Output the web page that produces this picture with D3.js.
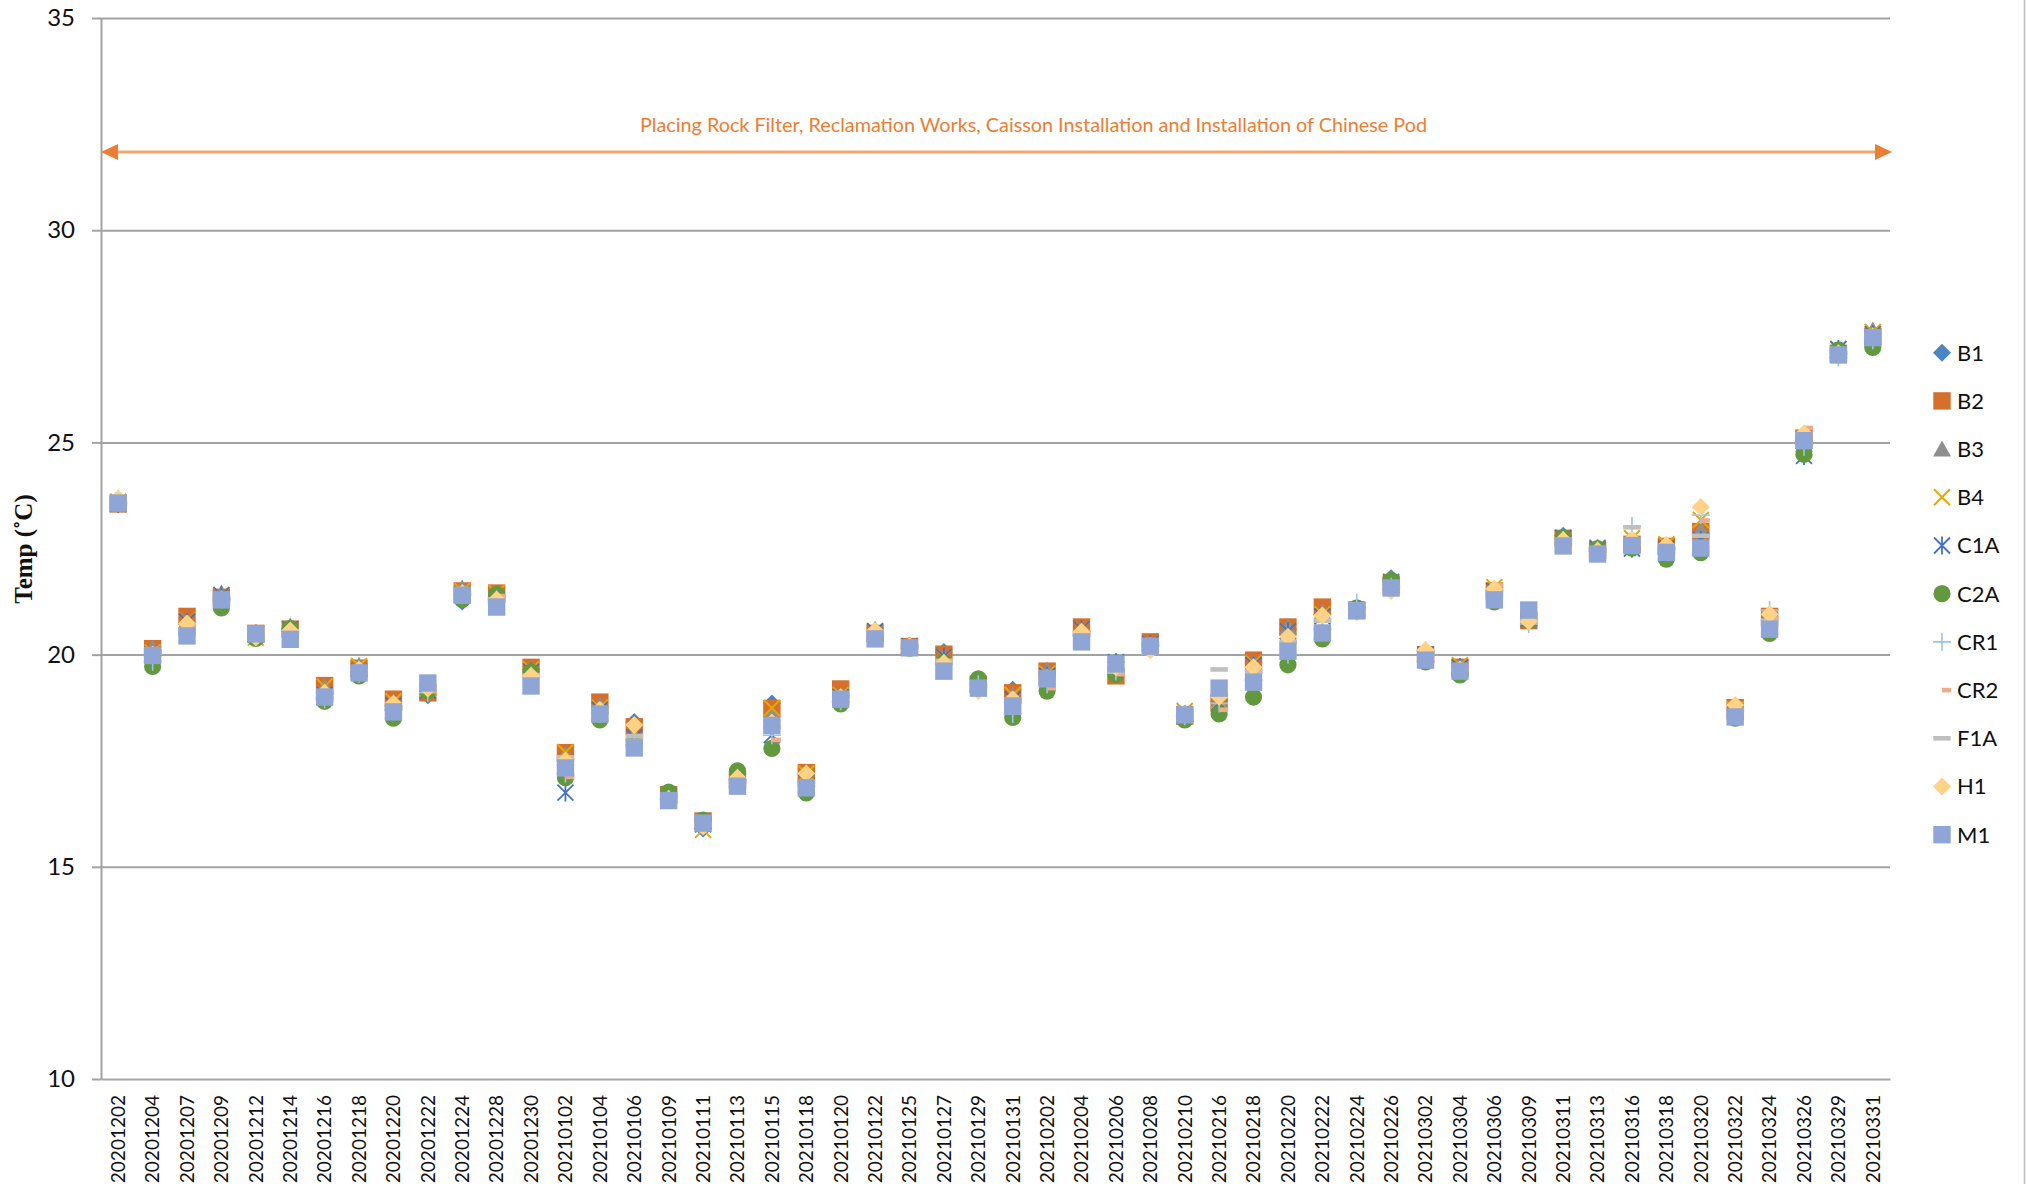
<!DOCTYPE html>
<html>
<head>
<meta charset="utf-8">
<script src="https://cdnjs.cloudflare.com/ajax/libs/d3/7.8.5/d3.min.js"></script>
<style>
    html, body { margin: 0; padding: 0; background: #fff; }
    svg { display: block; }
</style>
</head>
<body>
<div id="chart"></div>
<script>
//Sampling dates (x categories)
const dates = ["20201202","20201204","20201207","20201209","20201212","20201214","20201216","20201218","20201220","20201222",
    "20201224","20201228","20201230","20210102","20210104","20210106","20210109","20210111","20210113","20210115",
    "20210118","20210120","20210122","20210125","20210127","20210129","20210131","20210202","20210204","20210206",
    "20210208","20210210","20210216","20210218","20210220","20210222","20210224","20210226","20210302","20210304",
    "20210306","20210309","20210311","20210313","20210316","20210318","20210320","20210322","20210324","20210326",
    "20210329","20210331"];

//Temperature per station
const b1 = [23.58,20.0,20.75,21.35,20.45,20.6,19.0,19.6,18.8,19.04,21.25,21.35,19.65,17.4,18.7,18.41,16.7,15.9,17.05,18.85,
    17.0,19.0,20.5,20.2,20.06,19.3,19.17,19.55,20.55,19.82,20.25,18.6,18.9,19.8,20.6,20.95,21.1,21.8,20.0,19.7,
    21.5,20.85,22.8,22.5,22.6,22.5,22.85,18.7,20.8,24.9,27.1,27.5];
const b2 = [23.55,20.14,20.9,21.35,20.5,20.6,19.27,19.68,18.95,19.1,21.5,21.45,19.7,17.69,18.88,18.3,16.7,16.08,17.05,18.73,
    17.22,19.19,20.5,20.19,20.01,19.3,19.1,19.61,20.65,19.5,20.3,18.55,18.85,19.87,20.65,21.12,21.05,21.65,20.0,19.7,
    21.5,20.8,22.74,22.45,22.6,22.55,22.9,18.75,20.9,25.1,27.1,27.5];
const b3 = [23.62,20.15,20.8,21.45,20.45,20.68,19.25,19.75,18.85,19.2,21.57,21.4,19.65,17.65,18.8,18.15,16.7,16.05,17.05,18.62,
    17.1,19.05,20.6,20.2,19.95,19.3,19.05,19.64,20.6,19.8,20.25,18.6,18.9,19.8,20.65,21.0,21.1,21.7,20.0,19.72,
    21.55,20.85,22.75,22.5,22.65,22.55,22.94,18.7,20.85,24.95,27.15,27.65];
const b4 = [23.6,20.05,20.8,21.4,20.4,20.6,19.25,19.73,18.9,19.2,21.5,21.45,19.65,17.7,18.75,18.2,16.65,15.87,17.0,18.74,
    17.2,19.05,20.55,20.2,19.95,19.3,19.05,19.55,20.6,19.8,20.25,18.67,18.9,19.8,20.55,20.95,21.05,21.72,20.0,19.75,
    21.59,20.85,22.75,22.52,22.74,22.6,23.17,18.7,20.85,24.85,27.2,27.6];
const c1a = [23.55,20.0,20.78,21.4,20.5,20.6,19.05,19.6,18.8,19.15,21.4,21.3,19.6,16.75,18.7,18.05,16.65,16.0,17.0,18.1,
    17.0,19.0,20.55,20.2,19.95,19.3,18.95,19.5,20.6,19.82,20.25,18.6,18.87,19.75,20.55,20.9,21.05,21.7,20.0,19.7,
    21.5,20.85,22.75,22.5,22.5,22.5,22.7,18.65,20.8,24.68,27.2,27.55];
const c2a = [23.6,19.72,20.5,21.1,20.38,20.62,18.9,19.5,18.5,19.14,21.3,21.42,19.59,17.1,18.46,17.85,16.76,16.1,17.26,17.79,
    16.74,18.84,20.45,20.15,19.81,19.43,18.52,19.14,20.45,19.54,20.2,18.46,18.6,19.0,19.76,20.37,21.1,21.75,19.83,19.52,
    21.24,20.8,22.75,22.5,22.51,22.25,22.4,18.5,20.5,24.72,27.18,27.24];
const cr1 = [23.58,19.83,20.6,21.3,20.5,20.5,18.95,19.55,18.7,19.1,21.4,21.3,19.5,17.2,18.6,18.0,16.6,16.0,17.05,18.1,
    16.9,18.9,20.45,20.15,19.8,19.3,18.6,19.3,20.45,19.6,20.2,18.55,18.85,19.4,20.0,20.6,21.22,21.6,20.1,19.65,
    21.5,20.72,22.7,22.45,23.03,22.45,23.29,18.6,21.05,24.9,27.0,27.4];
const cr2 = [23.55,20.05,20.7,21.3,20.5,20.55,19.1,19.6,18.75,19.15,21.45,21.38,19.52,17.12,18.65,18.08,16.65,16.0,17.0,17.99,
    17.0,19.0,20.5,20.2,19.85,19.25,18.9,19.21,20.5,19.54,20.25,18.55,18.7,19.6,20.3,20.8,21.05,21.6,20.05,19.65,
    21.64,20.85,22.7,22.45,22.6,22.5,23.16,18.7,20.85,25.34,27.1,27.5];
const f1a = [23.6,20.0,20.6,21.35,20.5,20.5,19.0,19.6,18.7,19.2,21.45,21.3,19.5,17.58,18.65,18.08,16.65,16.0,17.0,18.3,
    17.0,19.0,20.5,20.2,19.85,19.3,18.9,19.4,20.5,19.6,20.2,18.55,19.65,19.6,20.3,20.8,21.05,21.6,20.0,19.65,
    21.45,20.8,22.7,22.45,23.0,22.5,22.8,18.65,20.8,24.95,27.1,27.5];
const h1 = [23.68,20.0,20.73,21.3,20.4,20.57,19.1,19.65,18.85,19.2,21.45,21.3,19.5,17.5,18.7,18.34,16.6,15.95,17.1,18.4,
    17.2,19.0,20.56,20.2,19.8,19.14,18.95,19.45,20.54,19.7,20.1,18.6,19.0,19.7,20.42,20.92,21.0,21.5,20.11,19.65,
    21.55,20.78,22.7,22.45,22.72,22.58,23.48,18.81,20.95,25.21,27.1,27.5];
const m1 = [23.57,19.98,20.44,21.29,20.49,20.36,19.0,19.57,18.65,19.33,21.4,21.12,19.26,17.33,18.6,17.8,16.56,16.03,16.9,18.33,
    16.86,18.95,20.37,20.16,19.61,19.21,18.79,19.43,20.3,19.78,20.2,18.58,19.21,19.35,20.08,20.51,21.03,21.57,19.87,19.61,
    21.29,21.05,22.56,22.37,22.57,22.41,22.51,18.53,20.6,25.04,27.06,27.47];

//Series names, in drawing order (last one on top)
const seriesNames = ["B1","B2","B3","B4","C1A","C2A","CR1","CR2","F1A","H1","M1"];
const seriesValues = [b1, b2, b3, b4, c1a, c2a, cr1, cr2, f1a, h1, m1];

//Y axis ticks
const yTicks = [10, 15, 20, 25, 30, 35];

//Annotation over the period
const annotationText = "Placing Rock Filter, Reclamation Works, Caisson Installation and Installation of Chinese Pod";

//Marker shape and colour for each series
const markerStyle = {
    "B1":  {shape: "diamond",   color: "#4A86C4"},
    "B2":  {shape: "square",    color: "#D4702C"},
    "B3":  {shape: "triangle",  color: "#8F8F8F"},
    "B4":  {shape: "x",         color: "#E5A800"},
    "C1A": {shape: "asterisk",  color: "#4472C4"},
    "C2A": {shape: "circle",    color: "#62993E"},
    "CR1": {shape: "plus",      color: "#9DC3E6"},
    "CR2": {shape: "shortdash", color: "#F2A98A"},
    "F1A": {shape: "dash",      color: "#BFBFBF"},
    "H1":  {shape: "diamond",   color: "#FFD285"},
    "M1":  {shape: "square",    color: "#8FA5D6"}
};

//Path for each marker shape, centred at 0,0
const shapePaths = {
    diamond:   "M0,-9L9,0L0,9L-9,0Z",
    square:    "M-8.7,-8.7H8.7V8.7H-8.7Z",
    triangle:  "M0,-8.5L9,7.5L-9,7.5Z",
    x:         "M-8,-8L8,8M-8,8L8,-8",
    asterisk:  "M-8,-8L8,8M-8,8L8,-8M0,-9L0,9",
    circle:    "M8.6,0A8.6,8.6 0 1,1 -8.6,0A8.6,8.6 0 1,1 8.6,0Z",
    plus:      "M-9,0L9,0M0,-9L0,9",
    shortdash: "M0,-2.3H9V2.3H0Z",
    dash:      "M-8.7,-2.3H8.7V2.3H-8.7Z"
};
const strokeOnly = {x: 2, asterisk: 1.8, plus: 1.6};

function drawMarker(sel, name)
{
    let st = markerStyle[name];
    sel.attr("d", shapePaths[st.shape]);
    if (strokeOnly[st.shape])
        sel.attr("fill", "none").attr("stroke", st.color).attr("stroke-width", strokeOnly[st.shape]);
    else
        sel.attr("fill", st.color).attr("stroke", "none");
}

//Dimensions of the page and the plot area
const width = 2026, height = 1184;
const dims = {top: 18, bottom: 105, left: 101, right: 136};
const plotW = width - dims.left - dims.right;
const plotH = height - dims.top - dims.bottom;

const svg = d3.select("#chart").append("svg")
    .attr("width", width)
    .attr("height", height);

//Scales
const x = d3.scaleBand()
    .domain(dates)
    .range([dims.left, dims.left + plotW])
    .padding(0);

const y = d3.scaleLinear()
    .domain([10, 35])
    .range([dims.top + plotH, dims.top]);

const gridColor = "#A3A3A3";

//Horizontal gridlines
svg.append("g")
    .attr("transform", "translate(" + dims.left + ",0)")
    .call(d3.axisLeft(y).tickValues(yTicks.slice(1)).tickSize(-plotW).tickFormat(""))
    .call(g => g.select(".domain").remove())
    .selectAll("line")
    .attr("stroke", gridColor)
    .attr("stroke-width", 2);

//Y axis with outside ticks
svg.append("g")
    .attr("transform", "translate(" + dims.left + ",0)")
    .call(d3.axisLeft(y).tickValues(yTicks).tickSize(9).tickSizeOuter(0).tickPadding(17))
    .call(g => g.select(".domain").attr("stroke", gridColor).attr("stroke-width", 2))
    .call(g => g.selectAll("line").attr("stroke", gridColor).attr("stroke-width", 2))
    .selectAll("text")
    .attr("font-family", "Lato, 'Liberation Sans', sans-serif")
    .attr("font-size", 24)
    .attr("fill", "#111");

//X axis with rotated date labels
svg.append("g")
    .attr("transform", "translate(0," + (dims.top + plotH) + ")")
    .call(d3.axisBottom(x).tickSize(0).tickSizeOuter(0))
    .call(g => g.select(".domain").attr("stroke", gridColor).attr("stroke-width", 2))
    .selectAll("text")
    .attr("font-family", "Lato, 'Liberation Sans', sans-serif")
    .attr("font-size", 19)
    .attr("fill", "#111")
    .attr("transform", "rotate(-90)")
    .attr("text-anchor", "end")
    .attr("x", -16)
    .attr("y", 0)
    .attr("dy", "0.36em");

//Y axis title
svg.append("text")
    .attr("transform", "translate(32,549) rotate(-90)")
    .attr("text-anchor", "middle")
    .attr("font-family", "'Liberation Serif', 'Times New Roman', serif")
    .attr("font-weight", "bold")
    .attr("font-size", 25)
    .attr("fill", "#111")
    .text("Temp (˚C)");

//Annotation arrow spanning the whole period
const arrowY = 152;
const x0 = x.range()[0], x1 = x.range()[1] + 2;
svg.append("line")
    .attr("x1", x0 + 12).attr("x2", x1 - 12)
    .attr("y1", arrowY).attr("y2", arrowY)
    .attr("stroke", "#F4A46C")
    .attr("stroke-width", 3);
svg.append("path")
    .attr("d", "M" + x0 + "," + arrowY + "l17,-8v16Z")
    .attr("fill", "#ED7D31");
svg.append("path")
    .attr("d", "M" + x1 + "," + arrowY + "l-17,-8v16Z")
    .attr("fill", "#ED7D31");
svg.append("text")
    .attr("x", 1033.5)
    .attr("y", 132)
    .attr("text-anchor", "middle")
    .attr("font-family", "Lato, 'Liberation Sans', sans-serif")
    .attr("font-size", 20)
    .attr("textLength", 787)
    .attr("lengthAdjust", "spacingAndGlyphs")
    .attr("fill", "#ED7D31")
    .text(annotationText);

//Markers, one group per series
seriesNames.forEach((name, i) => {
    let pts = dates.map((d, j) => ({date: d, value: seriesValues[i][j]}));
    svg.append("g")
        .attr("class", "series-" + name)
        .selectAll("path")
        .data(pts)
        .enter().append("path")
        .attr("transform", d => "translate(" + (x(d.date) + x.bandwidth() / 2) + "," + y(d.value) + ")")
        .call(drawMarker, name);
});

//Legend on the right
const legend = svg.append("g").attr("transform", "translate(1942,352.7)");
seriesNames.forEach((name, i) => {
    let row = legend.append("g").attr("transform", "translate(0," + (i * 48.2) + ")");
    row.append("path").call(drawMarker, name);
    row.append("text")
        .attr("x", 15)
        .attr("dy", "0.36em")
        .attr("font-family", "Lato, 'Liberation Sans', sans-serif")
        .attr("font-size", 22)
        .attr("fill", "#111")
        .text(name);
});

//Chart area border on the right edge
svg.append("line")
    .attr("x1", 2024.5).attr("x2", 2024.5)
    .attr("y1", 0).attr("y2", height)
    .attr("stroke", "#BFBFBF")
    .attr("stroke-width", 1.5);
</script>
</body>
</html>
